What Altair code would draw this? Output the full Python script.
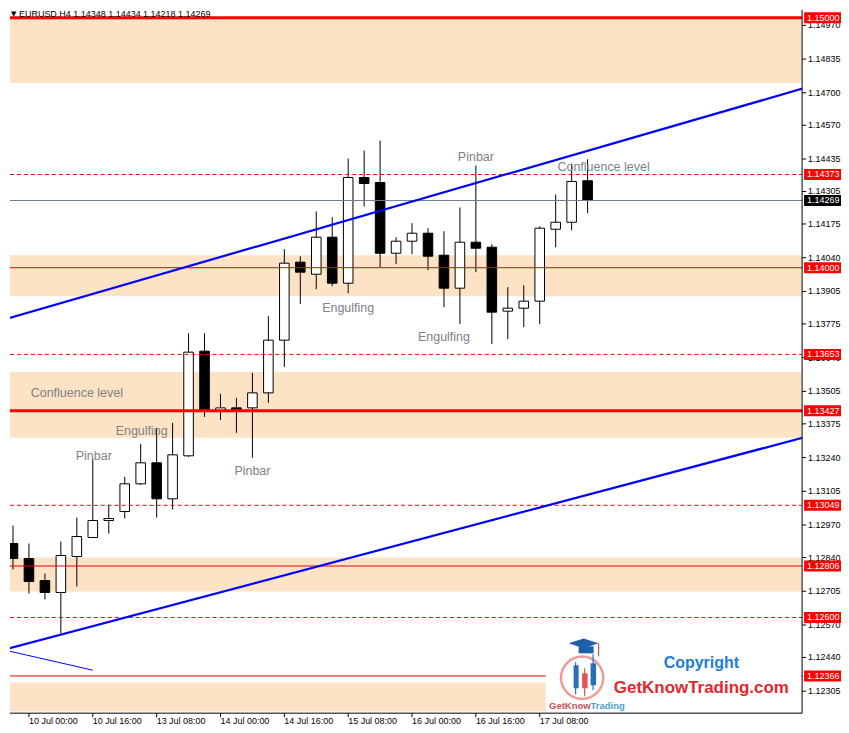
import altair as alt
import pandas as pd

# ---------------- data ----------------
bar_index = list(range(-1, 37))
bar_time = [
    "9 Jul 16:00", "9 Jul 20:00",
    "10 Jul 00:00", "10 Jul 04:00", "10 Jul 08:00", "10 Jul 12:00", "10 Jul 16:00", "10 Jul 20:00",
    "13 Jul 00:00", "13 Jul 04:00", "13 Jul 08:00", "13 Jul 12:00", "13 Jul 16:00", "13 Jul 20:00",
    "14 Jul 00:00", "14 Jul 04:00", "14 Jul 08:00", "14 Jul 12:00", "14 Jul 16:00", "14 Jul 20:00",
    "15 Jul 00:00", "15 Jul 04:00", "15 Jul 08:00", "15 Jul 12:00", "15 Jul 16:00", "15 Jul 20:00",
    "16 Jul 00:00", "16 Jul 04:00", "16 Jul 08:00", "16 Jul 12:00", "16 Jul 16:00", "16 Jul 20:00",
    "17 Jul 00:00", "17 Jul 04:00", "17 Jul 08:00", "17 Jul 12:00", "17 Jul 16:00", "17 Jul 20:00",
]
open_ = [1.13431, 1.12896, 1.12836, 1.12748, 1.12700, 1.12844, 1.12920, 1.12988, 1.13024, 1.13135,
         1.13219, 1.13075, 1.13247, 1.13666, 1.13427, 1.13439, 1.13439, 1.13499, 1.13710, 1.14022,
         1.13974, 1.14122, 1.13938, 1.14361, 1.14341, 1.14058, 1.14106, 1.14138, 1.14050, 1.13918,
         1.14102, 1.14082, 1.13826, 1.13838, 1.13866, 1.14154, 1.14182, 1.14348]
high_ = [1.13447, 1.12968, 1.12896, 1.12776, 1.12904, 1.13000, 1.13235, 1.13052, 1.13163, 1.13295,
         1.13359, 1.13379, 1.13738, 1.13738, 1.13495, 1.13479, 1.13579, 1.13806, 1.14074, 1.14046,
         1.14225, 1.14202, 1.14437, 1.14469, 1.14509, 1.14122, 1.14178, 1.14158, 1.14146, 1.14241,
         1.14409, 1.14094, 1.13922, 1.13930, 1.14166, 1.14293, 1.14417, 1.14434]
low_ = [1.12888, 1.12792, 1.12696, 1.12672, 1.12536, 1.12724, 1.12920, 1.12936, 1.12996, 1.13131,
        1.13000, 1.13032, 1.13243, 1.13403, 1.13391, 1.13339, 1.13239, 1.13459, 1.13603, 1.13854,
        1.13914, 1.13926, 1.13898, 1.14245, 1.14002, 1.14014, 1.14054, 1.13990, 1.13842, 1.13774,
        1.13982, 1.13694, 1.13714, 1.13762, 1.13774, 1.14082, 1.14150, 1.14218]
close_ = [1.12896, 1.12836, 1.12744, 1.12700, 1.12848, 1.12924, 1.12988, 1.12996, 1.13135, 1.13219,
          1.13075, 1.13251, 1.13662, 1.13427, 1.13439, 1.13431, 1.13499, 1.13710, 1.14018, 1.13982,
          1.14122, 1.13938, 1.14361, 1.14337, 1.14058, 1.14106, 1.14138, 1.14046, 1.13918, 1.14102,
          1.14078, 1.13822, 1.13838, 1.13866, 1.14158, 1.14182, 1.14345, 1.14269]

x_tick_bars = [1, 5, 9, 13, 17, 21, 25, 29, 33]
y_ticks = [1.14970, 1.14835, 1.14700, 1.14570, 1.14435, 1.14305, 1.14175, 1.14040, 1.13905,
           1.13775, 1.13640, 1.13505, 1.13375, 1.13240, 1.13105, 1.12970, 1.12840, 1.12705,
           1.12570, 1.12440, 1.12305]

zone_top = [1.15000, 1.14050, 1.13583, 1.12840, 1.12340]
zone_bottom = [1.14739, 1.13886, 1.13319, 1.12704, 1.12225]

thick_levels = [1.15000, 1.13427]
thin_levels = [1.14000, 1.12806, 1.12366]
dashed_levels = [1.14373, 1.13653, 1.13049, 1.12600]
current_price = [1.14269]

trend_name = ["upper", "upper", "lower", "lower"]
trend_bar = [-0.6875, 49.6875, -0.6875, 49.6875]
trend_price = [1.13790, 1.14721, 1.12469, 1.13323]
thin_trend_bar = [-0.6875, 5.0]
thin_trend_price = [1.12472, 1.12389]

note_text = ["Pinbar", "Engulfing", "Confluence level", "Pinbar", "Engulfing", "Pinbar",
             "Confluence level", "Engulfing"]
note_bar = [5.06, 8.06, 4.0, 15.0, 21.0, 29.0, 37.0, 27.0]
note_price = [1.13247, 1.13347, 1.13499, 1.13187, 1.13838, 1.14445, 1.14405, 1.13722]

title_text = "EURUSD,H4  1.14348 1.14434 1.14218 1.14269"

# ---------------- chart ----------------
W, H = 794, 705
FONT = "Liberation Sans"
xs = alt.Scale(domain=[-0.1875, -0.1875 + W / 16], nice=False, zero=False)
ys = alt.Scale(domain=[1.12217, 1.15032], nice=False, zero=False)

candles = pd.DataFrame({"bar": bar_index, "time": bar_time, "open": open_, "high": high_,
                        "low": low_, "close": close_})


def Y(field):
    return alt.Y(field, type="quantitative", scale=ys, axis=None)


def X(field):
    return alt.X(field, type="quantitative", scale=xs, axis=None)


one = pd.DataFrame({"k": [0]})


def box(x1, x2, y1, y2, color):
    return alt.Chart(one).mark_rect(color=color).encode(
        x=alt.value(x1), x2=alt.value(x2), y=alt.value(y1), y2=alt.value(y2))


def vline(x, y1, y2, color, width=1.2):
    return alt.Chart(one).mark_rule(color=color, strokeWidth=width).encode(
        x=alt.value(x), y=alt.value(y1), y2=alt.value(y2))


def label(txt, x, y, size, color, weight="normal", align="center", font=FONT):
    return alt.Chart(one).mark_text(text=txt, font=font, fontSize=size, color=color,
                                    fontWeight=weight, align=align, baseline="middle").encode(
        x=alt.value(x), y=alt.value(y))


zones = alt.Chart(pd.DataFrame({"top": zone_top, "bottom": zone_bottom})).mark_rect(
    color="#FDE3C5").encode(x=alt.value(0), x2=alt.value(W - 0.5), y=Y("top"), y2="bottom")


def hlevels(prices, color, width, dash=None):
    kw = dict(color=color, strokeWidth=width)
    if dash:
        kw["strokeDash"] = dash
    return alt.Chart(pd.DataFrame({"price": prices})).mark_rule(**kw).encode(
        x=alt.value(0), x2=alt.value(W), y=Y("price"))


lv_thick = hlevels(thick_levels, "#FF0000", 3)
lv_thin = hlevels(thin_levels, "#E80000", 1)
lv_dash = hlevels(dashed_levels, "#FF0000", 1, [4, 3])
lv_cur = hlevels(current_price, "#708090", 1)

trends = alt.Chart(pd.DataFrame({"name": trend_name, "bar": trend_bar, "price": trend_price})
                   ).mark_line(color="#0000FF", strokeWidth=2.2, clip=True).encode(
    x=X("bar"), y=Y("price"), detail="name:N")
thin_trend = alt.Chart(pd.DataFrame({"bar": thin_trend_bar, "price": thin_trend_price})
                       ).mark_line(color="#0000FF", strokeWidth=1, clip=True).encode(
    x=X("bar"), y=Y("price"))

wicks = alt.Chart(candles).mark_rule(color="black", strokeWidth=1, clip=True).encode(
    x=X("bar"), y=Y("low"), y2="high")

bodies = alt.Chart(candles).transform_calculate(
    x1="datum.bar - 0.3", x2="datum.bar + 0.3",
    dir="datum.close >= datum.open ? 'up' : 'down'",
).mark_rect(stroke="black", strokeWidth=1, clip=True).encode(
    x=X("x1"), x2="x2", y=Y("open"), y2="close",
    fill=alt.Fill("dir:N", scale=alt.Scale(domain=["up", "down"], range=["white", "black"]),
                  legend=None))

notes = alt.Chart(pd.DataFrame({"t": note_text, "bar": note_bar, "price": note_price})).mark_text(
    font=FONT, fontSize=12.5, color="#808088", align="center", baseline="middle").encode(
    x=X("bar"), y=Y("price"), text="t:N")

# axes drawn with marks through the scales
x_ticks_df = pd.DataFrame({"bar": x_tick_bars, "lab": [bar_time[b + 1] for b in x_tick_bars]})
y_ticks_df = pd.DataFrame({"price": y_ticks})
axis_marks = [
    vline(W, 0, H, "black", 1),
    alt.Chart(one).mark_rule(color="black", strokeWidth=1).encode(
        x=alt.value(0), x2=alt.value(W), y=alt.value(H)),
    alt.Chart(y_ticks_df).mark_rule(color="black", strokeWidth=1).encode(
        x=alt.value(W), x2=alt.value(W + 4), y=Y("price")),
    alt.Chart(y_ticks_df).mark_text(font=FONT, fontSize=9, color="black", align="left",
                                    baseline="middle").encode(
        x=alt.value(W + 6), y=Y("price"), text=alt.Text("price:Q", format=".5f")),
    alt.Chart(x_ticks_df).mark_rule(color="black", strokeWidth=1).encode(
        x=X("bar"), y=alt.value(H), y2=alt.value(H + 4)),
    alt.Chart(x_ticks_df).mark_text(font=FONT, fontSize=9, color="black", align="left",
                                    baseline="top").encode(
        x=X("bar"), y=alt.value(H + 4), text="lab:N"),
]

# logo (decoration)
logo = [
    box(537, W - 1, 632, H - 1, "white"),
    alt.Chart(one).mark_point(shape="circle", size=1800, filled=False, color="#E8706A",
                              strokeWidth=2.5).encode(x=alt.value(573.5), y=alt.value(669.5)),
    vline(567, 654, 686, "#2A6EBB"), box(565, 570, 657, 680, "#2A6EBB"),
    vline(576, 660, 688, "#E0565B"), box(573.5, 579, 665, 680, "#E0565B"),
    vline(584.5, 646, 682, "#2A6EBB"), box(582, 587.5, 655, 677, "#2A6EBB"),
    alt.Chart(one).mark_point(shape="M-1,0L0,-0.33L1,0L0,0.33Z", size=900, filled=True,
                              color="#1D5FA8", opacity=1).encode(x=alt.value(575), y=alt.value(635)),
    box(570, 585, 638, 645, "#1D5FA8"),
    vline(590, 635, 648, "#D0505A"),
    label("Copyright", 693, 655, 16, "#1C7ED6", "bold"),
    label("GetKnowTrading.com", 693, 680, 17, "#E5262D", "bold"),
    label("GetKnow", 582, 698, 9.5, "#C9505A", "bold", "right"),
    label("Trading", 582, 698, 9.5, "#4A9FD0", "bold", "left"),
]

title = [
    label("\u25BC", 1, 4, 7, "black", align="left", font="DejaVu Sans"),
    alt.Chart(one).mark_text(text=title_text, font=FONT, fontSize=9, color="black",
                             align="left", baseline="top").encode(x=alt.value(9), y=alt.value(0)),
]

# price tags on the right
red_tags = alt.Chart(pd.DataFrame({"price": thick_levels + thin_levels + dashed_levels})
                     ).transform_calculate(top="datum.price + 0.00022",
                                           bot="datum.price - 0.00022")
tag_boxes = red_tags.mark_rect(color="#FF0000").encode(
    x=alt.value(W + 2), x2=alt.value(W + 39), y=Y("top"), y2="bot")
tag_text = red_tags.mark_text(font=FONT, fontSize=9, color="white", align="left",
                              baseline="middle").encode(
    x=alt.value(W + 5), y=Y("price"), text=alt.Text("price:Q", format=".5f"))
cur_tags = alt.Chart(pd.DataFrame({"price": current_price})).transform_calculate(
    top="datum.price + 0.00022", bot="datum.price - 0.00022")
cur_box = cur_tags.mark_rect(color="black").encode(
    x=alt.value(W + 2), x2=alt.value(W + 39), y=Y("top"), y2="bot")
cur_text = cur_tags.mark_text(font=FONT, fontSize=9, color="white", align="left",
                              baseline="middle").encode(
    x=alt.value(W + 5), y=Y("price"), text=alt.Text("price:Q", format=".5f"))

chart = alt.layer(
    zones, wicks, bodies, lv_thin, lv_dash, lv_cur, lv_thick, trends, thin_trend,
    notes, *logo, *axis_marks, *title, tag_boxes, tag_text, cur_box, cur_text,
).properties(width=W, height=H, padding=0).configure_view(stroke=None)

chart.save("out.html", embed_options={"renderer": "svg", "actions": False})
